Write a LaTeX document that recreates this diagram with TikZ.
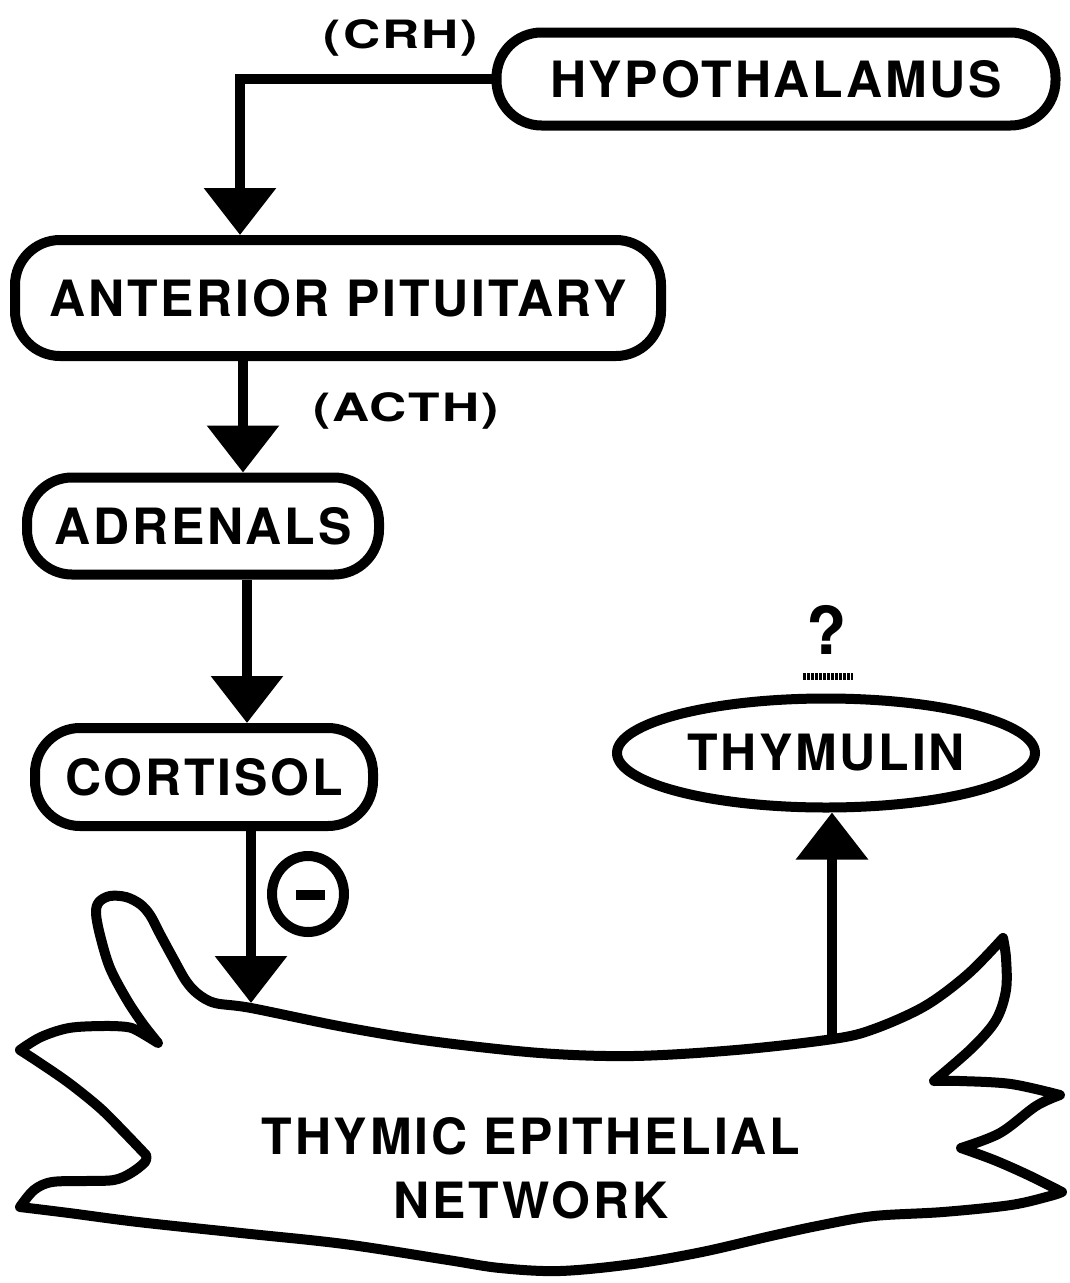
\documentclass[tikz,border=0pt]{standalone}
\usepackage{fontspec}
\usepackage{graphicx}
\usetikzlibrary{arrows.meta,shapes.geometric}
\newfontfamily\labfont{TeX Gyre Heros}[LetterSpace=5.5]
\newfontfamily\smallfont{TeX Gyre Heros}[LetterSpace=4]
\begin{document}
\begin{tikzpicture}[x=1pt,y=-1pt,
  box/.style={draw, line width=10pt, rounded corners=45pt, inner sep=0pt,
    font=\labfont\bfseries\fontsize{50}{60}\selectfont},
  oval/.style={ellipse, draw, line width=10pt, inner sep=0pt,
    font=\labfont\bfseries\fontsize{50}{60}\selectfont},
  conn/.style={line width=10pt, -{Triangle[width=70pt,length=47pt]}},
  hormone/.style={font=\smallfont\bfseries\fontsize{39}{41}\selectfont, inner sep=0pt},
  blob/.style={line width=10pt, line join=round}]
\fill[white] (0,0) rectangle (1069,1283);
\useasboundingbox (0,0) rectangle (1069,1283);

% boxes
\node[box, minimum width=559pt, minimum height=93pt] (hyp) at (776,79) {HYPOTHALAMUS};
\node[box, minimum width=646pt, minimum height=116pt] (ant) at (338,298) {ANTERIOR PITUITARY};
\node[box, minimum width=352pt, minimum height=97pt] (adr) at (203,526) {ADRENALS};
\node[box, minimum width=338pt, minimum height=98pt] (cor) at (204,777) {CORTISOL};
\node[oval, minimum width=418pt, minimum height=109pt] (thy) at (826,753) {THYMULIN};

% hormone labels
\node[hormone] (crh) at (401,38) {\scalebox{1.32}[1]{(CRH)}};
\node[hormone] (acth) at (406,411) {\scalebox{1.32}[1]{(ACTH)}};

% question mark
\node[font=\labfont\bfseries\fontsize{66}{70}\selectfont, inner sep=0pt] (q) at (827,630) {?};
\draw[line width=7pt, dash pattern=on 2.5pt off 1.5pt] (803,676) -- (853,676);

% minus sign
\node[ellipse, draw, line width=10pt, minimum width=72pt, minimum height=76pt, inner sep=0pt] (neg) at (308,894) {};
\node[fill, minimum width=29pt, minimum height=10pt, inner sep=0pt] (negbar) at (310,895) {};

% thymic epithelial network
\draw[blob] plot[smooth, tension=0.55] coordinates {(158,1043) (143,1024) (127,1000) (110,968) (100,935) (96,913) (99,902) (110,896) (126,897) (140,904) (150,915) (160,934) (173,958) (186,981) (198,994) (215,1003) (251,1008) (344,1027) (430,1041) (540,1053) (633,1056) (736,1050) (833,1039) (874,1029) (925,1006) (968,974) (1003,938)}
  -- plot[smooth, tension=0.55] coordinates {(1003,938) (1006,958) (1006,990) (996,1020) (972,1048) (934,1081)}
  -- plot[smooth, tension=0.55] coordinates {(934,1081) (960,1081) (1011,1084) (1060,1095)}
  -- plot[smooth, tension=0.55] coordinates {(1060,1095) (1036,1106) (1000,1133) (961,1148)}
  -- plot[smooth, tension=0.55] coordinates {(961,1148) (994,1160) (1028,1175) (1062,1192)}
  -- plot[smooth, tension=0.55] coordinates {(1062,1192) (1050,1196) (1011,1205) (943,1212) (874,1216) (822,1225) (771,1236) (702,1252) (633,1264) (560,1271) (500,1268) (448,1260) (344,1244) (241,1233) (138,1222) (69,1213) (20,1207)}
  -- plot[smooth, tension=0.55] coordinates {(20,1207) (34,1190) (52,1182) (86,1181) (114,1180) (131,1173) (145,1162) (146,1155)}
  -- plot[smooth, tension=0.55] coordinates {(146,1155) (124,1132) (100,1108) (69,1083) (40,1063) (20,1050)}
  -- plot[smooth, tension=0.55] coordinates {(20,1050) (41,1037) (69,1028) (103,1026) (127,1027) (138,1031) (158,1043)}
  -- cycle;
\coordinate (cortip) at (251,1003);
\coordinate (thybase) at (832,1039);

% connectors
\coordinate (crhx) at (240,0);
\coordinate (acthx) at (243,0);
\coordinate (adrx) at (247,0);
\draw[conn] (hyp.west) -| (crhx |- ant.north);
\draw[conn] (acthx |- ant.south) -- (acthx |- adr.north);
\draw[conn] (adrx |- adr.south) -- (adrx |- cor.north);
\draw[conn] (cortip |- cor.south) -- (cortip);
\draw[conn] (thybase) -- (thybase |- thy.south);

% network label
\node[font=\labfont\bfseries\fontsize{50}{60}\selectfont, align=center, inner sep=0pt] (net) at (531,1168)
  {THYMIC EPITHELIAL\\[4pt]NETWORK};
\end{tikzpicture}
\end{document}
